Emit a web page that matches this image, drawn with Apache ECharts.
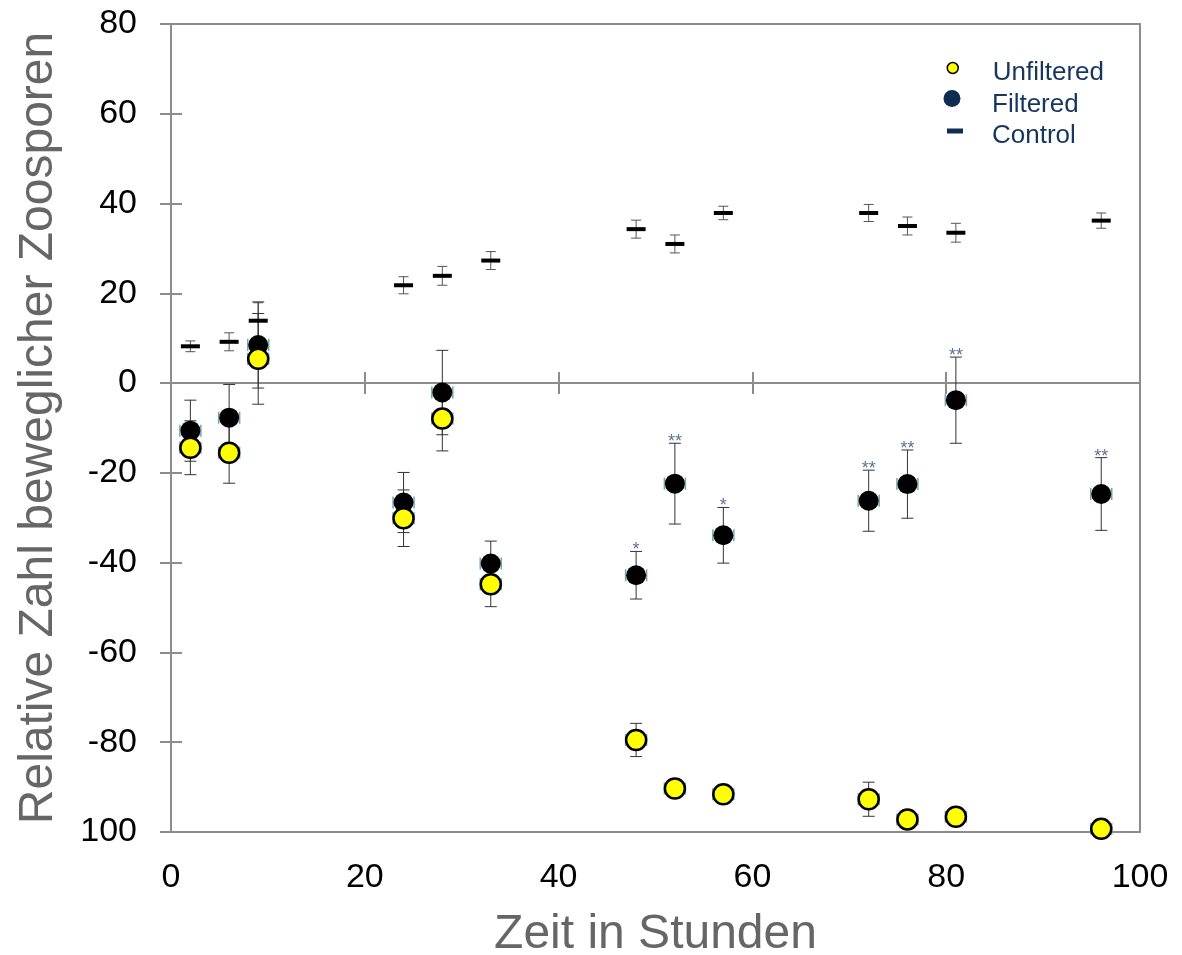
<!DOCTYPE html>
<html>
<head>
<meta charset="utf-8">
<script src="https://cdn.jsdelivr.net/npm/echarts@6/dist/echarts.min.js"></script>
<style>html,body{margin:0;padding:0;background:#fff}#c{width:1182px;height:955px}</style>
</head>
<body>
<div id="c"></div>
<script>
const times = [2, 6, 9, 24, 28, 33, 48, 52, 57, 72, 76, 81, 96];
const control = [8.2, 9.2, 13.9, 21.8, 23.9, 27.3, 34.3, 31.0, 37.9, 37.9, 35.0, 33.5, 36.2];
const controlErr = [1.2, 2.0, 4.0, 1.9, 2.1, 2.0, 2.0, 2.0, 1.5, 1.9, 2.0, 2.1, 1.7];
const filtered = [-10.6, -7.7, 8.5, -26.6, -2.1, -40.2, -42.8, -22.4, -33.9, -26.2, -22.5, -3.8, -24.7];
const filteredErr = [6.8, 7.4, 9.6, 6.7, 9.4, 5.0, 5.3, 9.0, 6.2, 6.8, 7.6, 9.6, 8.1];
const unfiltered = [-14.4, -15.5, 5.4, -30.1, -7.9, -44.8, -79.5, -90.3, -91.6, -92.7, -97.2, -96.6, -99.3];
const unfilteredErr = [6.0, 6.8, 10.1, 6.3, 7.2, 5.0, 3.7, 1.0, 1.5, 3.8, 1.0, 1.0, 1.0];
const signif = ['', '', '', '', '', '', '*', '**', '*', '**', '**', '**', '**'];
const yTickValues = [80, 60, 40, 20, 0, -20, -40, -60, -80, -100];
const yTickLabels = ['80', '60', '40', '20', '0', '-20', '-40', '-60', '-80', '100'];
const xTickValues = [0, 20, 40, 60, 80, 100];
const xTickLabels = ['0', '20', '40', '60', '80', '100'];

const AXIS = '#8c8c8c';
const NAVY = '#0f2c52';

function pts(ys) { return times.map((t, i) => [t, ys[i]]); }
function errPts(ys, es) { return times.map((t, i) => [t, ys[i], es[i]]); }

function errRender(capHalf, color, side) {
  return function (params, api) {
    const x = api.value(0), y = api.value(1), e = api.value(2);
    const c = api.coord([x, y]);
    const t = api.coord([x, y + e]);
    const b = api.coord([x, y - e]);
    const st = { stroke: color, lineWidth: 1 };
    const ch = [
      { type: 'line', shape: { x1: c[0], y1: t[1], x2: c[0], y2: b[1] }, style: st },
      { type: 'line', shape: { x1: c[0] - capHalf, y1: t[1], x2: c[0] + capHalf, y2: t[1] }, style: st },
      { type: 'line', shape: { x1: c[0] - capHalf, y1: b[1], x2: c[0] + capHalf, y2: b[1] }, style: st }
    ];
    if (side) {
      const ss = { stroke: '#6fa8b0', lineWidth: 1.5 };
      [-10.5, 10.5].forEach(function (dx) {
        ch.push({ type: 'line', shape: { x1: c[0] + dx, y1: c[1] - 6, x2: c[0] + dx, y2: c[1] + 6 }, style: ss });
      });
    }
    return { type: 'group', children: ch };
  };
}

function starRender(params, api) {
  const x = api.value(0), y = api.value(1), e = api.value(2);
  const t = api.coord([x, y + e]);
  return {
    type: 'text',
    style: {
      text: signif[params.dataIndex], x: t[0], y: t[1] - 1,
      textAlign: 'center', textVerticalAlign: 'middle',
      fill: '#5b7394', font: '18px "Liberation Sans", Arial, sans-serif'
    }
  };
}

const baseFont = '"Liberation Sans", Arial, sans-serif';

function legendItem(name, icon, w, h, style, top, left) {
  return {
    data: [{ name: name, icon: icon, itemStyle: style }],
    left: left, top: top, padding: 0,
    itemWidth: w, itemHeight: h, selectedMode: false,
    textStyle: { fontSize: 26, lineHeight: 25, color: '#17365d', fontFamily: baseFont, padding: [0, 0, 0, 992 - left - w - 5] }
  };
}

const chart = echarts.init(document.getElementById('c'), null, { renderer: 'canvas' });
chart.setOption({
  backgroundColor: '#ffffff',
  animation: false,
  grid: { left: 171, right: 42, top: 24, bottom: 123, outerBoundsMode: 'none', containLabel: false, show: true, borderColor: AXIS, borderWidth: 2, backgroundColor: 'transparent' },
  legend: [
    legendItem('Unfiltered', 'path://M5.5,20M0,5.5a5.5,5.5 0 1,0 11,0a5.5,5.5 0 1,0 -11,0z', 11, 20, { color: '#ffff00', borderColor: '#000', borderWidth: 1.5 }, 59.5, 946.5),
    legendItem('Filtered', 'path://M8.5,29M0,8.5a8.5,8.5 0 1,0 17,0a8.5,8.5 0 1,0 -17,0z', 17, 29, { color: NAVY }, 90, 943.5),
    legendItem('Control', 'path://M8,15M0,0h16v5h-16z', 16, 15, { color: NAVY }, 123, 947)
  ],
  xAxis: [
    {
      type: 'value', min: 0, max: 100, interval: 20, position: 'bottom',
      axisLine: { onZero: false, lineStyle: { color: AXIS, width: 2 } },
      axisTick: { show: false }, splitLine: { show: false },
      axisLabel: {
        margin: 29, color: '#000', fontSize: 34, fontFamily: '"Liberation Sans Narrow", "Arial Narrow", ' + baseFont,
        formatter: function (v) { const i = xTickValues.indexOf(v); return i >= 0 ? xTickLabels[i] : ''; }
      },
      name: 'Zeit in Stunden', nameLocation: 'middle', nameGap: 79,
      nameTextStyle: { fontSize: 48, color: '#666666', fontFamily: baseFont }
    },
    {
      type: 'value', min: 0, max: 100, interval: 20, position: 'bottom',
      axisLine: { onZero: true, lineStyle: { color: AXIS, width: 2 } },
      axisTick: { show: true, inside: false, length: 11, lineStyle: { color: AXIS, width: 2 } },
      axisLabel: { show: false }, splitLine: { show: false }
    },
    {
      type: 'value', min: 0, max: 100, interval: 20, position: 'bottom',
      axisLine: { onZero: true, lineStyle: { color: AXIS, width: 2 } },
      axisTick: { show: true, inside: true, length: 11, lineStyle: { color: AXIS, width: 2 } },
      axisLabel: { show: false }, splitLine: { show: false }
    }
  ],
  yAxis: [
    {
      type: 'value', min: -100, max: 80, interval: 20, position: 'left',
      axisLine: { show: true, onZero: false, lineStyle: { color: AXIS, width: 2 } },
      axisTick: { show: true, inside: false, length: 11, lineStyle: { color: AXIS, width: 2 } },
      splitLine: { show: false },
      axisLabel: {
        margin: 34, color: '#000', fontSize: 34, fontFamily: baseFont,
        formatter: function (v) { const i = yTickValues.indexOf(v); return i >= 0 ? yTickLabels[i] : ''; }
      },
      name: 'Relative Zahl beweglicher Zoosporen', nameLocation: 'middle', nameGap: 108,
      nameTextStyle: { fontSize: 48, color: '#666666', fontFamily: baseFont }
    },
    {
      type: 'value', min: -100, max: 80, interval: 20, position: 'left',
      axisLine: { show: true, onZero: false, lineStyle: { color: AXIS, width: 2 } },
      axisTick: { show: true, inside: true, length: 11, lineStyle: { color: AXIS, width: 2 } },
      axisLabel: { show: false }, splitLine: { show: false }
    }
  ],
  series: [
    { type: 'custom', name: 'ctrlErr', renderItem: errRender(5, '#555555', false), data: errPts(control, controlErr), z: 3, silent: true },
    { type: 'custom', name: 'filtErr', renderItem: errRender(6, '#333333', true), data: errPts(filtered, filteredErr), z: 3, silent: true },
    { type: 'custom', name: 'unfErr', renderItem: errRender(6, '#333333', true), data: errPts(unfiltered, unfilteredErr), z: 3, silent: true },
    { type: 'custom', name: 'stars', renderItem: starRender, data: errPts(filtered, filteredErr), z: 6, silent: true },
    { type: 'scatter', name: 'Filtered', data: pts(filtered), symbol: 'circle', symbolSize: 20, itemStyle: { color: '#000000', opacity: 1 }, z: 4 },
    { type: 'scatter', name: 'Unfiltered', data: pts(unfiltered), symbol: 'circle', symbolSize: 20, itemStyle: { color: '#ffff00', borderColor: '#000000', borderWidth: 2.5, opacity: 1 }, z: 5, clip: false },
    { type: 'scatter', name: 'Control', data: pts(control), symbol: 'rect', symbolSize: [19, 4], itemStyle: { color: '#000000', opacity: 1 }, z: 6 }
  ]
});
</script>
</body>
</html>
